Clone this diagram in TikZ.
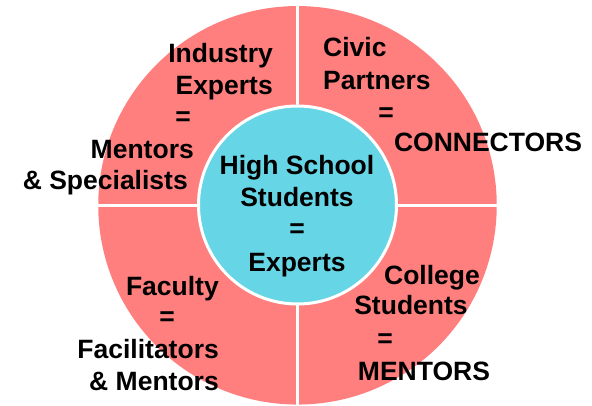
\documentclass[tikz,border=0pt]{standalone}
\usepackage{fontspec}
\setmainfont{Liberation Sans}
\definecolor{salmon}{RGB}{255,127,127}
\definecolor{aqua}{RGB}{102,213,229}

\begin{document}
\begin{tikzpicture}[x=1pt,y=-1pt]

\tikzset{lbl/.style = {inner sep=0pt, font=\fontsize{26.5}{32}\selectfont\bfseries}}
\tikzset{gap/.style = {draw=white, line width=3.5pt}}
\useasboundingbox (0,0) rectangle (592,406);
% rings
\node[circle, fill=salmon, minimum size=398.5pt, inner sep=0pt] (ring) at (297.5,205.3) {};
\draw[gap] (ring.north) -- (ring.south);
\draw[gap] (ring.west) -- (ring.east);
\node[circle, fill=aqua, draw=white, line width=3pt, minimum size=198pt, inner sep=0pt] (core) at (297.5,205) {};

% top left
\node[lbl, anchor=base east] (industry) at (273,63) {Industry};
\node[lbl, anchor=base east] (experts) at (273,95) {Experts};
\node[lbl, anchor=base] (eqtl) at (183,126) {=};
\node[lbl, anchor=base east] (mentors) at (194,159) {Mentors};
\node[lbl, anchor=base east] (specialists) at (188,190) {\& Specialists};

% top right
\node[lbl, anchor=base west] (civic) at (323,57) {Civic};
\node[lbl, anchor=base west] (partners) at (323,90) {Partners};
\node[lbl, anchor=base] (eqtr) at (386,122) {=};
\node[lbl, anchor=base] (connectors) at (488,152) {CONNECTORS};

% bottom left
\node[lbl, anchor=base east] (faculty) at (219,295) {Faculty};
\node[lbl, anchor=base] (eqbl) at (167,326) {=};
\node[lbl, anchor=base east] (facilitators) at (219,358) {Facilitators};
\node[lbl, anchor=base east] (fmentors) at (219,390) {\& Mentors};

% bottom right
\node[lbl, anchor=base] (college) at (432,284) {College};
\node[lbl, anchor=base] (cstudents) at (411,315) {Students};
\node[lbl, anchor=base] (eqbr) at (385,347) {=};
\node[lbl, anchor=base] (cmentors) at (424,380) {MENTORS};

% centre
\node[lbl, anchor=base] (high) at (297,175) {High School};
\node[lbl, anchor=base] (hstudents) at (297,207) {Students};
\node[lbl, anchor=base] (eqc) at (297,238) {=};
\node[lbl, anchor=base] (hexperts) at (297,272) {Experts};

\end{tikzpicture}
\end{document}
